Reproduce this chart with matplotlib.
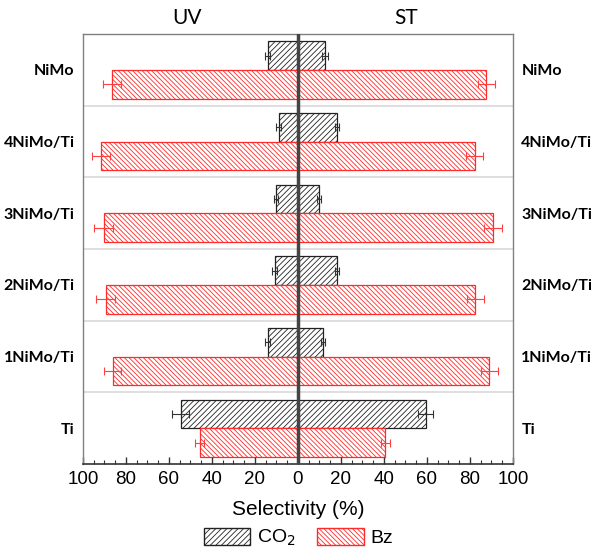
import numpy as np
import matplotlib
matplotlib.use("Agg")
import matplotlib.pyplot as plt
from matplotlib.patches import Patch
from matplotlib.ticker import MultipleLocator, FuncFormatter

plt.rcParams['hatch.linewidth'] = 0.6

catalysts = ['NiMo', '4NiMo/Ti', '3NiMo/Ti', '2NiMo/Ti', '1NiMo/Ti', 'Ti']

# selectivity (%) under UV (drawn to the left) and ST (drawn to the right)
co2_uv = [14.1, 9.0, 10.1, 10.9, 14.1, 54.6]
co2_st = [12.6, 18.0, 9.8, 18.0, 11.5, 59.5]
bz_uv = [86.5, 91.4, 90.4, 89.5, 86.1, 45.8]
bz_st = [87.6, 82.2, 90.7, 82.5, 88.9, 40.7]

co2_uv_err = [1.2, 1.0, 1.0, 1.0, 1.2, 3.9]
co2_st_err = [1.2, 1.0, 1.0, 1.0, 1.0, 3.5]
bz_uv_err = [4.0, 4.2, 4.3, 4.3, 4.0, 2.3]
bz_st_err = [4.0, 4.0, 4.0, 3.9, 4.0, 2.0]

y = np.arange(len(catalysts))
h = 0.4
hatch_co2 = '/' * 6
hatch_bz = '\\' * 7

fig = plt.figure(figsize=(5.91, 5.49), dpi=100)
ax = fig.add_axes([0.1404, 0.1548, 0.7276, 0.7832])

ekw_k = dict(ecolor='#333333', elinewidth=0.8, capsize=3, capthick=0.8)
ekw_r = dict(ecolor='#ff4040', elinewidth=0.8, capsize=3, capthick=0.8)

ax.barh(y - h / 2, -np.array(co2_uv), height=h, color='white', edgecolor='#222222',
        hatch=hatch_co2, linewidth=0.9, xerr=co2_uv_err, error_kw=ekw_k)
ax.barh(y - h / 2, co2_st, height=h, color='white', edgecolor='#222222',
        hatch=hatch_co2, linewidth=0.9, xerr=co2_st_err, error_kw=ekw_k)
ax.barh(y + h / 2, -np.array(bz_uv), height=h, color='white', edgecolor='#ff2a2a',
        hatch=hatch_bz, linewidth=0.9, xerr=bz_uv_err, error_kw=ekw_r)
ax.barh(y + h / 2, bz_st, height=h, color='white', edgecolor='#ff2a2a',
        hatch=hatch_bz, linewidth=0.9, xerr=bz_st_err, error_kw=ekw_r)

# row separators
for b in y[:-1] + 0.5:
    ax.axhline(b, color='#d9d9d9', lw=1.2, zorder=0)
ax.axvline(0, color='#444444', lw=2.5, zorder=5)

ax.set_xlim(-100, 100)
ax.set_ylim(len(catalysts) - 0.5, -0.5)
ax.set_yticks(y)
ax.set_yticklabels(catalysts, fontfamily='Lato', fontweight='bold', fontsize=11.5)
ax.tick_params(axis='y', length=0, labelleft=True, labelright=True, pad=6)

ax.xaxis.set_major_locator(MultipleLocator(20))
ax.xaxis.set_minor_locator(MultipleLocator(5))
ax.xaxis.set_major_formatter(FuncFormatter(lambda v, p: f'{abs(v):.0f}'))
ax.tick_params(axis='x', which='major', direction='in', length=5, width=1,
               color='#333333', labelsize=13.5, pad=5)
ax.tick_params(axis='x', which='minor', direction='in', length=3, width=0.8,
               color='#333333')
for lab in ax.get_xticklabels():
    lab.set_fontfamily('Liberation Sans')

for s in ['left', 'right', 'top']:
    ax.spines[s].set_color('#808080')
    ax.spines[s].set_linewidth(1.0)
ax.spines['bottom'].set_color('#333333')
ax.spines['bottom'].set_linewidth(1.2)

ax.set_xlabel('Selectivity (%)', fontfamily='Liberation Sans', fontsize=15, labelpad=9)

ax.text(-51.5, 1.015, 'UV', transform=ax.get_xaxis_transform(), ha='center', va='bottom',
        fontfamily='Lato', fontsize=15)
ax.text(50.2, 1.015, 'ST', transform=ax.get_xaxis_transform(), ha='center', va='bottom',
        fontfamily='Lato', fontsize=15)

handles = [Patch(facecolor='white', edgecolor='#222222', hatch=hatch_co2, label='CO$_2$'),
           Patch(facecolor='white', edgecolor='#ff2a2a', hatch=hatch_bz, label='Bz')]
leg = fig.legend(handles=handles, loc='center', bbox_to_anchor=(0.505, 0.02), ncol=2,
                 frameon=False, handlelength=2.4, handleheight=0.95, handletextpad=0.35,
                 columnspacing=1.1, prop={'family': 'Liberation Sans', 'size': 14})

fig.savefig('out.png', dpi=100)
